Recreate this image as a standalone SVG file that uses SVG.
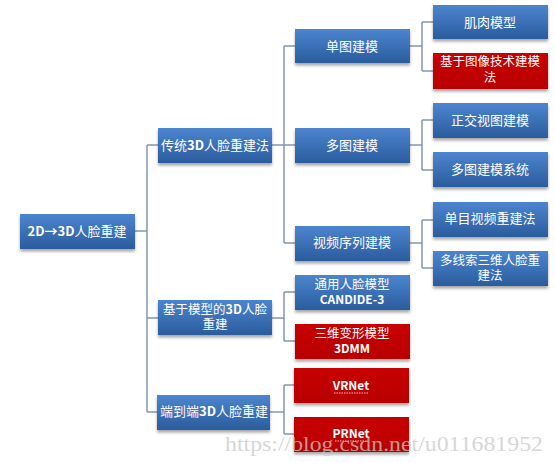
<svg xmlns="http://www.w3.org/2000/svg" width="555" height="463" viewBox="0 0 555 463">
<defs>
<linearGradient id="blue" x1="0" y1="0" x2="0" y2="1">
<stop offset="0" stop-color="#4c85cf"/>
<stop offset="1" stop-color="#2a5c9d"/>
</linearGradient>
<linearGradient id="red" x1="0" y1="0" x2="0" y2="1">
<stop offset="0" stop-color="#c80000"/>
<stop offset="1" stop-color="#b80000"/>
</linearGradient>
<filter id="sh" x="-10%" y="-20%" width="120%" height="160%">
<feDropShadow dx="0" dy="2.5" stdDeviation="1.5" flood-color="#000" flood-opacity="0.35"/>
</filter>
</defs>
<style>
.b{fill:url(#blue);filter:url(#sh)}
.r{fill:url(#red);filter:url(#sh)}
text{font-family:"Noto Sans CJK SC","Noto Sans",sans-serif;font-size:13px;fill:#fff;text-anchor:middle}
.two{font-size:12.5px}
.lat{font-weight:bold}
.sm{font-size:12px;font-weight:bold}
.c{fill:none;stroke:#8296b0;stroke-width:1.5}
.wm{font-family:"Liberation Serif",serif;font-size:22px;fill:#c8c8c8;fill-opacity:0.75;text-anchor:start}
</style>
<rect width="555" height="463" fill="#fff"/>
<g id="connectors">
<path class="c" d="M135,231H147M147,145V412M147,145H158M147,318H158M147,412H157"/>
<path class="c" d="M272,145H284M284,46V243M284,46H295M284,145H295M284,243H295"/>
<path class="c" d="M272,318H284M284,292V341M284,292H295M284,341H295"/>
<path class="c" d="M270,412H284M284,385V434M284,385H294M284,434H294"/>
<path class="c" d="M410,46H422M422,22V71M422,22H433M422,71H433"/>
<path class="c" d="M410,145H422M422,120V170M422,120H433M422,170H433"/>
<path class="c" d="M410,243H422M422,220V268M422,220H433M422,268H433"/>
</g>
<g id="root"><rect class="b" x="20" y="214" width="115" height="35"/><text x="77" y="236"><tspan class="lat">2D→3D</tspan>人脸重建</text></g>
<g id="trad"><rect class="b" x="158" y="128" width="114" height="35"/><text x="215" y="150">传统<tspan class="lat">3D</tspan>人脸重建法</text></g>
<g id="model"><rect class="b" x="158" y="300" width="114" height="35"/><text class="two" x="215" y="314">基于模型的<tspan class="lat">3D</tspan>人脸<tspan x="215" dy="15">重建</tspan></text></g>
<g id="e2e"><rect class="b" x="157" y="395" width="113" height="35"/><text x="214" y="416">端到端<tspan class="lat">3D</tspan>人脸重建</text></g>
<g id="single"><rect class="b" x="295" y="29" width="115" height="34"/><text x="352" y="51">单图建模</text></g>
<g id="multi"><rect class="b" x="295" y="128" width="115" height="35"/><text x="352" y="150">多图建模</text></g>
<g id="video"><rect class="b" x="295" y="226" width="115" height="35"/><text x="352" y="247">视频序列建模</text></g>
<g id="candide"><rect class="b" x="295" y="275" width="115" height="35"/><text class="two" x="352" y="289">通用人脸模型<tspan x="352" dy="15" class="sm">CANDIDE-3</tspan></text></g>
<g id="3dmm"><rect class="r" x="295" y="324" width="115" height="35"/><text class="two" x="352" y="338">三维变形模型<tspan x="352" dy="15" class="sm">3DMM</tspan></text></g>
<g id="vrnet"><rect class="r" x="294" y="368" width="115" height="35"/><text x="351" y="390" class="sm">VRNet</text><line x1="334" y1="393" x2="369" y2="393" stroke="#e8c0c0" stroke-width="1" stroke-dasharray="1.5,1"/></g>
<g id="prnet"><rect class="r" x="294" y="417" width="115" height="35"/><text x="351" y="438" class="sm">PRNet</text><line x1="335" y1="441" x2="368" y2="441" stroke="#e8c0c0" stroke-width="1" stroke-dasharray="1.5,1"/></g>
<g id="muscle"><rect class="b" x="433" y="5" width="115" height="34"/><text x="490" y="27">肌肉模型</text></g>
<g id="image"><rect class="r" x="433" y="53" width="115" height="36"/><text class="two" x="490" y="66">基于图像技术建模<tspan x="490" dy="16">法</tspan></text></g>
<g id="ortho"><rect class="b" x="433" y="103" width="115" height="35"/><text x="490" y="125">正交视图建模</text></g>
<g id="multisys"><rect class="b" x="433" y="152" width="115" height="35"/><text x="490" y="174">多图建模系统</text></g>
<g id="mono"><rect class="b" x="433" y="202" width="115" height="35"/><text x="490" y="223">单目视频重建法</text></g>
<g id="multicue"><rect class="b" x="433" y="251" width="115" height="35"/><text class="two" x="490" y="265">多线索三维人脸重<tspan x="490" dy="15">建法</tspan></text></g>
<text class="wm" x="225" y="451" textLength="318" lengthAdjust="spacingAndGlyphs">https://blog.csdn.net/u011681952</text>
</svg>
